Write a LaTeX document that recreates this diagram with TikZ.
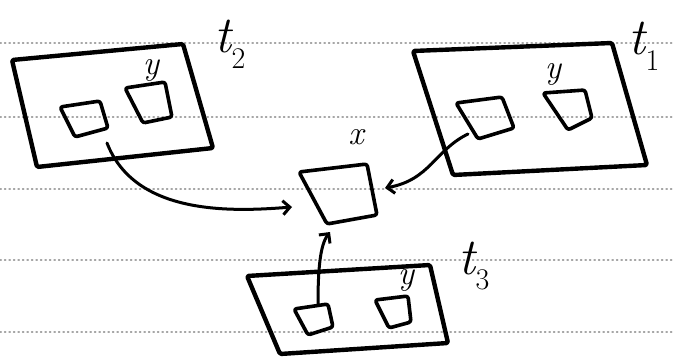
\documentclass[tikz,border=0pt]{standalone}
\usepackage{fontspec}
\usetikzlibrary{arrows.meta}
\newcommand{\tlab}[1]{{\itshape t}\raisebox{-0.3em}{\fontsize{30}{30}\selectfont\upshape #1}}
\begin{document}
\begin{tikzpicture}[x=1pt,y=-1pt,line join=round,line cap=round,
  frame/.style={draw=black,line width=4.4pt,rounded corners=1.5pt},
  box/.style={draw=black,line width=3.6pt,rounded corners=2.5pt},
  link/.style={draw=black,line width=3pt,-{Straight Barb[length=7pt,width=14pt,line width=3pt]}},
  ruled/.style={draw=black!35,line width=1.3pt,dash pattern=on 1.3pt off 3.2pt},
  big/.style={font=\fontsize{52}{52}\selectfont,inner sep=0pt},
  small/.style={font=\fontsize{34}{34}\selectfont\itshape,inner sep=0pt}]
\useasboundingbox (0,0) rectangle (674,361);
\fill[white] (0,0) rectangle (674,361);
% notebook lines
\foreach \yy in {43,117,189,260,332}
  \draw[ruled] (0,\yy) -- (674,\yy);
% t2 frame
\draw[frame] (12,60) -- (183,44) -- (213,148) -- (37,167) -- cycle;
\draw[box] (60,107) -- (100,101) -- (108,128) -- (75,137) -- cycle;
\draw[box] (125,88) -- (165,82) -- (172,117) -- (143,123) -- cycle;
\node[small] (y2) at (151,70) {y};
\node[big] (t2) at (230,44) {\tlab{2}};
% t1 frame
\draw[frame] (413,51) -- (612,43) -- (647,165) -- (453,175) -- cycle;
\draw[box] (456,103) -- (502,97) -- (514,128) -- (478,139) -- cycle;
\draw[box] (543,93) -- (585,90) -- (592,118) -- (568,130) -- cycle;
\node[small] (y1) at (553,74) {y};
\node[big] (t1) at (644,46) {\tlab{1}};
% x box
\draw[box] (299,172) -- (367,164) -- (377,215) -- (327,224) -- cycle;
\node[small] (xl) at (356,137) {x};
\coordinate (xin2) at (292,207);
\coordinate (xin1) at (385,188);
\coordinate (xin3) at (330,232);
% t3 frame
\draw[frame] (247,276) -- (430,265) -- (448,343) -- (280,354) -- cycle;
\draw[box] (294,309) -- (328,304) -- (333,327) -- (308,335) -- cycle;
\draw[box] (375,300) -- (408,296) -- (411,322) -- (389,328) -- cycle;
\node[small] (y3) at (406,280) {y};
\node[big] (t3) at (474,266) {\tlab{3}};
% connectors
\coordinate (s2) at (107,143);
\coordinate (s1) at (468,134);
\coordinate (s3) at (318,304);
\draw[link] (s2) .. controls (135,215) and (230,212) .. (xin2);
\draw[link] (s1) .. controls (435,150) and (430,180) .. (xin1);
\draw[link] (s3) .. controls (318,270) and (320,245) .. (xin3);
\end{tikzpicture}
\end{document}
